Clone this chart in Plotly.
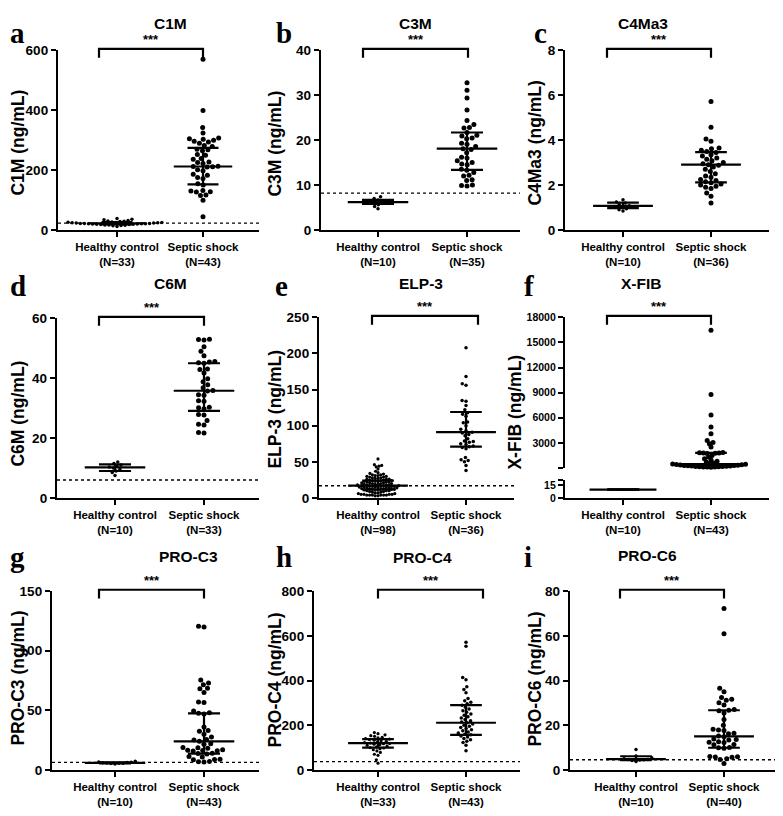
import numpy as np
import plotly.graph_objects as go

W, H = 783, 816
OX, OY = 8, 8          # the page puts the plot 8 px in from the top-left corner
FONT = "Liberation Sans"
groups = ["Healthy control", "Septic shock"]

# ---------------- data (ng/mL) ----------------
c1m_healthy = [12, 14, 15, 16, 17, 17, 18, 18, 19, 19, 20, 20, 21, 21, 21, 22, 22, 22,
               23, 23, 24, 24, 25, 25, 26, 27, 28, 29, 30, 32, 34, 36, 38]
c1m_septic = [570, 399, 342, 324, 307, 305, 303, 300, 296, 294, 290, 282, 279, 270, 268,
              265, 252, 250, 239, 236, 227, 225, 222, 213, 212, 211, 210, 201, 198, 186,
              183, 175, 172, 154, 150, 132, 130, 128, 127, 117, 115, 99, 44]
c1m_median = [22, 212]
c1m_q1 = [19, 152]
c1m_q3 = [26, 274]
c1m_n = [33, 43]
c1m_cutoff = 23
c1m_ticks = [0, 200, 400, 600]

c3m_healthy = [4.7, 5.2, 5.6, 5.9, 6.1, 6.2, 6.4, 6.7, 7.0, 7.4]
c3m_septic = [32.8, 31.1, 29.4, 26.7, 24.4, 23.5, 22.8, 22.7, 21.7, 21.1, 20.9, 20.5,
              20.3, 19.3, 19.1, 18.6, 18.1, 17.9, 17.2, 16.2, 16.0, 15.4, 15.0, 14.7,
              14.5, 13.5, 13.3, 12.8, 12.2, 12.0, 11.2, 11.0, 10.0, 9.9, 9.8]
c3m_median = [6.2, 18.1]
c3m_q1 = [5.8, 13.4]
c3m_q3 = [6.7, 21.7]
c3m_n = [10, 35]
c3m_cutoff = 8.2
c3m_ticks = [0, 10, 20, 30, 40]

c4ma3_healthy = [0.85, 0.9, 0.95, 1.0, 1.05, 1.08, 1.12, 1.2, 1.25, 1.35]
c4ma3_septic = [5.72, 4.58, 4.05, 3.95, 3.65, 3.62, 3.55, 3.5, 3.45, 3.35, 3.3, 3.2,
                3.15, 3.08, 3.0, 2.95, 2.9, 2.88, 2.8, 2.7, 2.6, 2.5, 2.4, 2.35, 2.25,
                2.2, 2.15, 2.1, 2.05, 2.0, 1.95, 1.9, 1.85, 1.65, 1.5, 1.2]
c4ma3_median = [1.07, 2.91]
c4ma3_q1 = [0.97, 2.12]
c4ma3_q3 = [1.22, 3.47]
c4ma3_n = [10, 36]
c4ma3_cutoff = None
c4ma3_ticks = [0, 2, 4, 6, 8]

c6m_healthy = [7.5, 8.5, 9.0, 9.5, 10.0, 10.3, 10.6, 11.0, 11.5, 12.0]
c6m_septic = [53.0, 52.9, 52.8, 50.5, 49.0, 47.5, 45.6, 45.4, 45.2, 45.0, 43.1, 42.9,
              41.7, 39.8, 38.8, 37.8, 36.8, 35.9, 35.7, 34.5, 34.3, 32.5, 32.3, 30.3,
              30.1, 29.8, 27.9, 27.7, 25.9, 24.6, 24.4, 21.9, 21.7]
c6m_median = [10.2, 35.8]
c6m_q1 = [9.0, 29.1]
c6m_q3 = [11.2, 45.0]
c6m_n = [10, 33]
c6m_cutoff = 6.0
c6m_ticks = [0, 20, 40, 60]

elp3_healthy = [3, 3, 4, 4, 4, 4, 4, 4, 5, 5, 5, 5, 6, 6, 7, 7, 8, 8, 9, 9,
                10, 10, 10, 11, 11, 11, 12, 12, 12, 12, 13, 13, 13,
                14, 14, 14, 14, 15, 15, 15, 15, 16, 16, 16, 16, 17, 17, 17, 17,
                18, 18, 18, 18, 19, 19, 19, 20, 20, 20, 21, 21, 21,
                22, 22, 22, 23, 23, 23, 24, 24, 24, 25, 25,
                26, 26, 26, 27, 27, 28, 28, 29, 29,
                30, 30, 31, 31, 32, 32, 33, 34, 35,
                37, 40, 43, 44, 45, 46, 54]
elp3_septic = [208, 168, 158, 156, 135, 134, 128, 122, 118, 116, 113, 105, 104, 100, 95,
               93, 91, 90, 88, 86, 82, 79, 78, 77, 75, 74, 72, 71, 70, 68, 56, 53, 52,
               50, 45, 38]
elp3_median = [17, 91]
elp3_q1 = [12, 71]
elp3_q3 = [24, 119]
elp3_n = [98, 36]
elp3_cutoff = 17
elp3_ticks = [0, 50, 100, 150, 200, 250]

xfib_healthy = [9.8, 9.85, 9.9, 9.95, 10.0, 10.0, 10.05, 10.1, 10.15, 10.2]
xfib_septic = [16470, 8770, 6340, 4880, 4100, 3270, 3050, 2900, 2490, 1850, 1820, 1800,
               1780, 1750, 1720, 1500, 1300, 1100, 950, 800, 700, 600, 520, 480, 450,
               420, 390, 360, 330, 300, 280, 260, 240, 220, 200, 185, 170, 155, 140,
               125, 110, 100, 90]
xfib_median = [10, 450]
xfib_q1 = [9.9, 200]
xfib_q3 = [10.1, 1800]
xfib_n = [10, 43]
xfib_ticks_low = [0, 15]
xfib_ticks_high = [3000, 6000, 9000, 12000, 15000, 18000]

proc3_healthy = [5.0, 5.3, 5.5, 5.6, 5.8, 5.9, 6.1, 6.3, 6.6, 7.2]
proc3_septic = [120.5, 120.0, 75.5, 73.0, 71.5, 68.5, 68.0, 65.0, 57.0, 56.5, 49.5, 48.0,
                47.5, 47.0, 36.0, 33.0, 32.5, 30.0, 27.5, 25.5, 25.0, 24.0, 22.0, 21.5,
                18.8, 18.5, 18.2, 16.8, 16.5, 16.3, 16.0, 15.8, 14.0, 13.7, 13.3, 11.2,
                10.8, 9.0, 8.8, 8.5, 7.0, 6.8, 6.5]
proc3_median = [5.8, 24.0]
proc3_q1 = [5.5, 13.7]
proc3_q3 = [6.3, 47.4]
proc3_n = [10, 43]
proc3_cutoff = 6.3
proc3_ticks = [0, 50, 100, 150]

proc4_healthy = [30, 45, 65, 70, 78, 85, 90, 95, 98, 100, 103, 106, 110, 112, 115, 117,
                 118, 120, 122, 125, 128, 130, 133, 136, 138, 140, 143, 146, 150, 153,
                 157, 162, 167]
proc4_septic = [571, 553, 414, 404, 372, 360, 345, 320, 310, 303, 296, 289, 280, 272, 265,
                258, 250, 244, 238, 232, 226, 220, 214, 211, 205, 200, 195, 190, 185,
                180, 175, 170, 165, 160, 157, 152, 147, 140, 135, 128, 122, 110, 86]
proc4_median = [120, 211]
proc4_q1 = [100, 157]
proc4_q3 = [138, 290]
proc4_n = [33, 43]
proc4_cutoff = 37
proc4_ticks = [0, 200, 400, 600, 800]

proc6_healthy = [3.7, 4.2, 4.4, 4.5, 4.6, 4.8, 5.0, 5.4, 6.2, 9.1]
proc6_septic = [72.3, 61.0, 36.5, 35.0, 32.4, 31.6, 31.2, 30.0, 29.0, 27.0, 26.7, 26.5,
                25.5, 22.6, 20.0, 18.2, 17.8, 17.6, 16.4, 16.2, 15.2, 14.8, 13.8, 13.6,
                13.4, 12.6, 12.4, 12.2, 11.4, 11.2, 10.0, 9.9, 9.7, 6.0, 5.9, 5.8, 5.6,
                5.0, 4.6, 2.9]
proc6_median = [4.8, 15.0]
proc6_q1 = [4.4, 9.9]
proc6_q3 = [6.1, 26.7]
proc6_n = [10, 40]
proc6_cutoff = 4.5
proc6_ticks = [0, 20, 40, 60, 80]


# ---------------- layout of the 3x3 grid (screen pixels) ----------------
panels = [
    dict(name="C1M", letter="a", h=c1m_healthy, s=c1m_septic, med=c1m_median, q1=c1m_q1,
         q3=c1m_q3, n=c1m_n, cut=c1m_cutoff, ticks=c1m_ticks,
         box=(58, 259, 44, 227), cats=(117, 203), br=(99, 203),
         title=(152, 17), ytitle=(18, 138), lpos=(1, 8), sizes=(3.5, 5), sw=(1.0, 1.0)),
    dict(name="C3M", letter="b", h=c3m_healthy, s=c3m_septic, med=c3m_median, q1=c3m_q1,
         q3=c3m_q3, n=c3m_n, cut=c3m_cutoff, ticks=c3m_ticks,
         box=(321, 520, 44, 227), cats=(378, 467), br=(363, 468),
         title=(416, 17), ytitle=(275, 139), lpos=(274, 8), sizes=(3.5, 5), sw=(1.0, 1.0)),
    dict(name="C4Ma3", letter="c", h=c4ma3_healthy, s=c4ma3_septic, med=c4ma3_median,
         q1=c4ma3_q1, q3=c4ma3_q3, n=c4ma3_n, cut=c4ma3_cutoff, ticks=c4ma3_ticks,
         box=(565, 769, 44, 227), cats=(623, 711), br=(607, 711),
         title=(670, 17), ytitle=(535, 139), lpos=(532, 8), sizes=(3.5, 5), sw=(1.0, 1.0)),
    dict(name="C6M", letter="d", h=c6m_healthy, s=c6m_septic, med=c6m_median, q1=c6m_q1,
         q3=c6m_q3, n=c6m_n, cut=c6m_cutoff, ticks=c6m_ticks,
         box=(57, 259, 317, 500), cats=(115, 204), br=(99, 204),
         title=(152, 282), ytitle=(18, 414), lpos=(1, 266), sizes=(3.5, 5), sw=(1.0, 1.0)),
    dict(name="ELP-3", letter="e", h=elp3_healthy, s=elp3_septic, med=elp3_median,
         q1=elp3_q1, q3=elp3_q3, n=elp3_n, cut=elp3_cutoff, ticks=elp3_ticks,
         box=(319, 514, 316, 500), cats=(378, 466), br=(372, 478),
         title=(421, 282), ytitle=(275, 410), lpos=(273, 266), sizes=(3.2, 3.5),
         sw=(0.75, 1.0)),
    dict(name="X-FIB", letter="f", h=xfib_healthy, s=xfib_septic, med=xfib_median,
         q1=xfib_q1, q3=xfib_q3, n=xfib_n, cut=None, ticks=xfib_ticks_low,
         box=(565, 769, 482, 500), upper=(316, 469), cats=(623, 711), br=(607, 711),
         title=(663, 282), ytitle=(515, 413), lpos=(522, 266), sizes=(2.5, 5),
         sw=(1.0, 0.7)),
    dict(name="PRO-C3", letter="g", h=proc3_healthy, s=proc3_septic, med=proc3_median,
         q1=proc3_q1, q3=proc3_q3, n=proc3_n, cut=proc3_cutoff, ticks=proc3_ticks,
         box=(52, 259, 595, 777), cats=(115, 204), br=(99, 204),
         title=(157, 560), ytitle=(18, 684), lpos=(1, 542), sizes=(3.5, 5), sw=(1.0, 1.0)),
    dict(name="PRO-C4", letter="h", h=proc4_healthy, s=proc4_septic, med=proc4_median,
         q1=proc4_q1, q3=proc4_q3, n=proc4_n, cut=proc4_cutoff, ticks=proc4_ticks,
         box=(314, 520, 595, 777), cats=(378, 466), br=(378, 483),
         title=(422, 561), ytitle=(275, 686), lpos=(274, 542), sizes=(3.2, 3.5),
         sw=(1.0, 1.0)),
    dict(name="PRO-C6", letter="i", h=proc6_healthy, s=proc6_septic, med=proc6_median,
         q1=proc6_q1, q3=proc6_q3, n=proc6_n, cut=proc6_cutoff, ticks=proc6_ticks,
         box=(570, 781, 595, 777), cats=(636, 724), br=(620, 724),
         title=(679, 559), ytitle=(535, 685), lpos=(522, 542), sizes=(3.5, 5), sw=(1.0, 1.0)),
]


def px_x(px):
    return (px - OX) / W


def px_y(py):
    return 1 - (py - OY) / H


def swarm(vals, diam, ypx, xpx):
    """Beeswarm offsets (in x data units) so dots of diameter diam px don't overlap."""
    vals = np.asarray(vals, dtype=float)
    offs = np.zeros(len(vals))
    placed = []
    for i in np.argsort(vals, kind="stable"):
        yp = vals[i] * ypx
        blocks = []
        for py, pxx in placed:
            dy = abs(yp - py)
            if dy < diam:
                w = np.sqrt(diam * diam - dy * dy)
                blocks.append((pxx - w, pxx + w))
        cands = [0.0] + [b for blk in blocks for b in blk]
        cands.sort(key=lambda c: (abs(c), c))
        pos = 0.0
        for c in cands:
            if all(not (lo + 1e-6 < c < hi - 1e-6) for lo, hi in blocks):
                pos = c
                break
        placed.append((yp, pos))
        offs[i] = pos / xpx
    return offs


def errbars(med, q1, q3, which, mw=0.34, cw=0.18):
    # median line plus interquartile whisker with caps
    xs, ys = [], []
    for i in which:
        xs += [i - mw, i + mw, None, i, i, None,
               i - cw, i + cw, None, i - cw, i + cw, None]
        ys += [med[i], med[i], None, q1[i], q3[i], None,
               q1[i], q1[i], None, q3[i], q3[i], None]
    return xs, ys


def bold(t):
    return "<b>" + t + "</b>" if t else ""


axis_common = dict(showline=True, linewidth=2.3, linecolor="black", ticks="outside",
                   ticklen=5, tickwidth=2.2, tickcolor="black", showgrid=False,
                   zeroline=False,
                   tickfont=dict(family=FONT, size=13.5, color="black"))

fig = go.Figure()
shapes, annotations = [], []
layout = {}

for k, p in enumerate(panels, start=1):
    sfx = "" if k == 1 else str(k)
    xa, ya = "x" + sfx, "y" + sfx
    L, R, T, B = p["box"]
    hx, sx = p["cats"]
    unit = sx - hx
    layout["xaxis" + sfx] = dict(
        axis_common, domain=[px_x(L), px_x(R)], range=[(L - hx) / unit, (R - hx) / unit],
        anchor=ya, tickvals=[0, 1],
        ticktext=[bold(g) + "<br>" + bold(f"(N={n})") for g, n in zip(groups, p["n"])],
        tickfont=dict(family=FONT, size=11.5, color="black"))
    ymax = p["ticks"][-1]
    if "upper" in p:
        ymax = 21
        tv, tt = [0, 15, 21], ["0", "15", ""]
    else:
        tv, tt = p["ticks"], [str(t) for t in p["ticks"]]
    layout["yaxis" + sfx] = dict(axis_common, domain=[px_y(B), px_y(T)],
                                 range=[0, ymax], anchor=xa, tickvals=tv,
                                 ticktext=[bold(t) for t in tt])
    ypx = (B - T) / ymax

    # septic shock axis (upper segment for the broken axis panel)
    if "upper" in p:
        ut, ub = p["upper"]
        ya_s = "y10"
        lo = 50
        small = dict(family=FONT, size=10.5, color="black")
        layout["yaxis10"] = dict(axis_common, domain=[px_y(ub), px_y(ut)],
                                 range=[lo, 18000], anchor=xa,
                                 tickvals=[lo] + xfib_ticks_high,
                                 ticktext=[""] + [bold(str(t)) for t in xfib_ticks_high],
                                 tickfont=small)
        layout["yaxis" + sfx]["tickfont"] = small
        ypx_s = (ub - ut) / (18000 - lo)
        s_vals = np.asarray(p["s"]) - lo
        br_ya, br_h = ya_s, ub - ut
    else:
        ya_s, ypx_s, s_vals = ya, ypx, np.asarray(p["s"])
        br_ya, br_h = ya, B - T

    hs, ss = p["sizes"]
    hw, swd = p["sw"]
    hoff = swarm(p["h"], (hs + 0.6) * hw, ypx, unit)
    soff = swarm(s_vals, (ss + 0.5) * swd, ypx_s, unit)
    fig.add_trace(go.Scatter(x=0 + hoff, y=p["h"], xaxis=xa, yaxis=ya, mode="markers",
                             marker=dict(size=hs, color="black"), cliponaxis=False,
                             showlegend=False, hoverinfo="y"))
    fig.add_trace(go.Scatter(x=1 + soff, y=p["s"], xaxis=xa, yaxis=ya_s, mode="markers",
                             marker=dict(size=ss, color="black"), cliponaxis=False,
                             showlegend=False, hoverinfo="y"))

    # median with interquartile range
    if ya_s == ya:
        ex, ey = errbars(p["med"], p["q1"], p["q3"], [0, 1])
        fig.add_trace(go.Scatter(x=ex, y=ey, xaxis=xa, yaxis=ya, mode="lines",
                                 line=dict(color="black", width=2.2), cliponaxis=False,
                                 showlegend=False, hoverinfo="skip"))
    else:
        for i, yy, mw in [(0, ya, 0.38), (1, ya_s, 0.34)]:
            ex, ey = errbars(p["med"], p["q1"], p["q3"], [i], mw=mw)
            fig.add_trace(go.Scatter(x=ex, y=ey, xaxis=xa, yaxis=yy, mode="lines",
                                     line=dict(color="black", width=2.2), cliponaxis=False,
                                     showlegend=False, hoverinfo="skip"))

    # dotted reference line
    if p["cut"] is not None:
        shapes.append(dict(type="line", xref=xa + " domain", yref=ya, x0=0, x1=1,
                           y0=p["cut"], y1=p["cut"],
                           line=dict(color="black", width=1.4, dash="dot")))

    # significance bracket
    bl, brr = [(v - hx) / unit for v in p["br"]]
    top = 1 + 1.5 / br_h
    drop = top - 9 / br_h
    shapes.append(dict(type="path", xref=xa, yref=br_ya + " domain",
                       path=f"M {bl},{drop} L {bl},{top} L {brr},{top} L {brr},{drop}",
                       line=dict(color="black", width=2.2)))
    annotations.append(dict(x=(bl + brr) / 2, y=top + 9.5 / br_h, xref=xa,
                            yref=br_ya + " domain", text="<b>***</b>", showarrow=False,
                            yanchor="middle",
                            font=dict(family=FONT, size=13, color="black")))

    # panel title, y title, letter
    tx, ty = p["title"]
    annotations.append(dict(x=px_x(tx), y=px_y(ty), xref="paper", yref="paper",
                            text=bold(p["name"]), showarrow=False, yanchor="middle",
                            font=dict(family=FONT, size=15.5, color="black")))
    yx, yy = p["ytitle"]
    annotations.append(dict(x=px_x(yx), y=px_y(yy), xref="paper", yref="paper",
                            text=bold(p["name"] + " (ng/mL)"), textangle=-90,
                            showarrow=False, xanchor="center", yanchor="middle",
                            font=dict(family=FONT, size=17.5, color="black")))
    lx, ly = p["lpos"]
    annotations.append(dict(x=max(px_x(lx), 0), y=px_y(ly), xref="paper", yref="paper",
                            text=bold(p["letter"]), showarrow=False, xanchor="left",
                            yanchor="top",
                            font=dict(family="Liberation Serif", size=29, color="black")))

fig.update_layout(**layout)
fig.update_layout(width=W, height=H, margin=dict(l=0, r=0, t=0, b=0),
                  plot_bgcolor="white", paper_bgcolor="white",
                  shapes=shapes, annotations=annotations, showlegend=False)

fig.write_html("out.html")
